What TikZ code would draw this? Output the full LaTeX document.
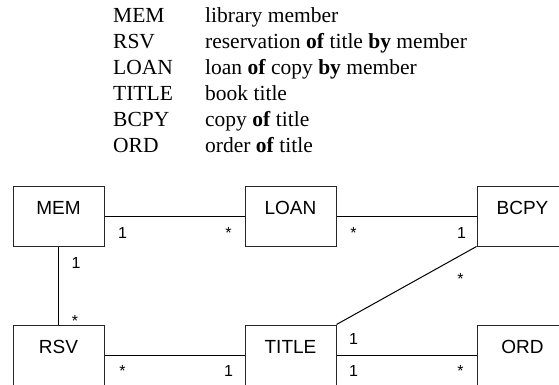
\documentclass[tikz,border=0pt]{standalone}
\usepackage{fontspec}
\setmainfont{Liberation Serif}
\newfontfamily\arialfont{Liberation Sans}
\usetikzlibrary{math}

\tikzset{
  entity/.style={draw=black!85, line width=1pt, minimum width=91pt,
    text height=28pt, text depth=32pt, inner sep=0pt,
    font=\arialfont\fontsize{19}{22}\selectfont},
  mult/.style={anchor=base, inner sep=0pt, font=\arialfont\fontsize{16}{18}\selectfont},
  assoc/.style={line width=1pt},
}

\begin{document}
\begin{tikzpicture}[x=1pt,y=1pt]
\tikzmath{
\xa=58.5; \xb=290.5; \xc=522.5;
\ytop=168; \ybot=29;
}
\useasboundingbox (0,0) rectangle (559,384);

 %legend:
 \node[anchor=base west, inner sep=0pt, font=\fontsize{21.5}{26}\selectfont] (legend) at (113,362) {%
  \begin{tabular}[t]{@{}p{92pt}@{}l@{}}
  MEM & library member\\
  RSV & reservation \textbf{of} title \textbf{by} member\\
  LOAN & loan \textbf{of} copy \textbf{by} member\\
  TITLE & book title\\
  BCPY & copy \textbf{of} title\\
  ORD & order \textbf{of} title
  \end{tabular}};

 %classes:
 \node[entity] (mem) at (\xa,\ytop) {MEM};
 \node[entity] (loan) at (\xb,\ytop) {LOAN};
 \node[entity] (bcpy) at (\xc,\ytop) {BCPY};
 \node[entity] (rsv) at (\xa,\ybot) {RSV};
 \node[entity] (title) at (\xb,\ybot) {TITLE};
 \node[entity] (ord) at (\xc,\ybot) {ORD};

 %associations:
 \draw[assoc] (mem) -- (loan)
   node[mult, at start, xshift=18, yshift=-22]{1}
   node[mult, at end, xshift=-16, yshift=-22]{*};
 \draw[assoc] (loan) -- (bcpy)
   node[mult, at start, xshift=17, yshift=-22]{*}
   node[mult, at end, xshift=-15, yshift=-22]{1};
 \draw[assoc] (mem) -- (rsv)
   node[mult, at start, xshift=17.5, yshift=-22]{1}
   node[mult, at end, xshift=16.5, yshift=-2]{*};
 \draw[assoc] (bcpy.south west) -- (title.north east)
   node[mult, at start, xshift=-16, yshift=-38]{*}
   node[mult, at end, xshift=17, yshift=-20]{1};
 \draw[assoc] (rsv) -- (title)
   node[mult, at start, xshift=18, yshift=-21]{*}
   node[mult, at end, xshift=-16, yshift=-21]{1};
 \draw[assoc] (title) -- (ord)
   node[mult, at start, xshift=17, yshift=-21]{1}
   node[mult, at end, xshift=-16, yshift=-21]{*};

\end{tikzpicture}
\end{document}
